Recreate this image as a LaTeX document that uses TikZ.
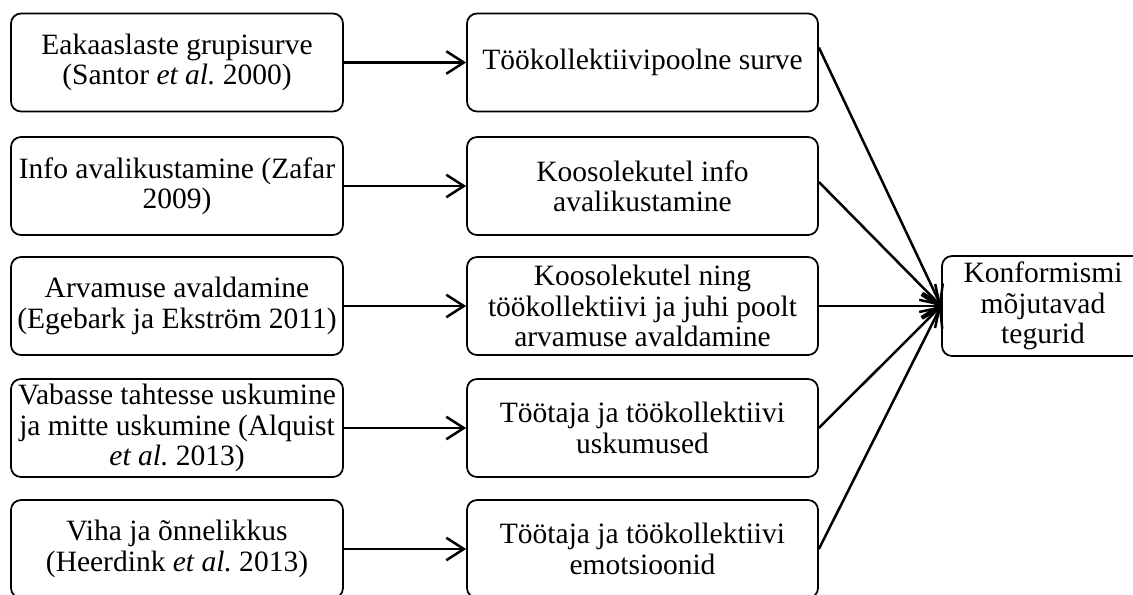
\documentclass[tikz,border=0pt]{standalone}
\usepackage{fontspec}
\setmainfont{Liberation Serif}
\usetikzlibrary{arrows.meta}
\usetikzlibrary{positioning}

\tikzset{
  factor/.style={draw, line width=0.7pt, rounded corners=4pt, align=center,
    minimum height=39.2pt, inner sep=1pt,
    font=\fontsize{11.8}{12.1}\selectfont},
  source/.style={factor, minimum width=132.8pt},
  target/.style={factor, minimum width=140.4pt},
  arr/.style={line width=1pt, -{Straight Barb[length=7pt,width=9pt]}}
}

\begin{document}
\frenchspacing
\begin{tikzpicture}[x=0.4pt, y=-0.4pt]
  \useasboundingbox (0, 0) rectangle (1133, 594);

  \foreach \i / \y / \lab in {
      1/62.5/{Eakaaslaste grupisurve\\(Santor \textit{et al.} 2000)},
      2/186/{Info avalikustamine (Zafar\\2009)},
      3/306/{Arvamuse avaldamine\\(Egebark ja Ekström 2011)},
      4/428/{Vabasse tahtesse uskumine\\ja mitte uskumine (Alquist\\\textit{et al.} 2013)},
      5/549/{Viha ja õnnelikkus\\(Heerdink \textit{et al.} 2013)}} {
    \node[source] (l\i) at (177, \y) {\lab};
  }

  \foreach \i / \y / \lab in {
      1/62.5/{Töökollektiivipoolne surve},
      2/186/{Koosolekutel info\\avalikustamine},
      3/306/{Koosolekutel ning\\töökollektiivi ja juhi poolt\\arvamuse avaldamine},
      4/428/{Töötaja ja töökollektiivi\\uskumused},
      5/549/{Töötaja ja töökollektiivi\\emotsioonid}} {
    \node[target] (m\i) at (642.5, \y) {\lab};
  }

  \node[factor, minimum width=80.8pt, minimum height=40pt] (k) at (1043, 306)
    {Konformismi\\mõjutavad\\tegurid};

  \foreach \i in {1, 2, ..., 5} {
    \draw[arr] (l\i) -- (m\i);
  }

  % middle column to the common box
  \draw[arr] ([yshift=6pt]m1.east) -- (k.west);
  \draw[arr] ([yshift=1.6pt]m2.east) -- (k.west);
  \foreach \i in {3, 4, 5} {
    \draw[arr] (m\i.east) -- (k.west);
  }
\end{tikzpicture}
\end{document}
